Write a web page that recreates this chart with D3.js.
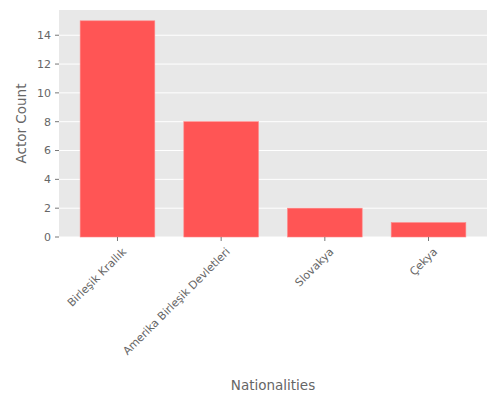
<!DOCTYPE html>
<html>
<head>
<meta charset="UTF-8">
<style>
  body { margin: 0; background: #fff; }
  text { font-family: "DejaVu Sans", sans-serif; }
</style>
</head>
<body>
<svg width="500" height="400"></svg>
<script src="https://d3js.org/d3.v7.min.js"></script>
<script>
let nationalities = ["Birleşik Krallık", "Amerika Birleşik Devletleri", "Slovakya", "Çekya"]
let counts = [15, 8, 2, 1]
let yTicks = [0, 2, 4, 6, 8, 10, 12, 14]

let svg = d3.select("svg")
let mLeft = 59, mRight = 487, mTop = 10, mBottom = 237

let x = d3.scaleLinear().domain([-0.564, nationalities.length - 1 + 0.564]).range([mLeft, mRight])
let y = d3.scaleLinear().domain([0, 15.75]).range([mBottom, mTop])
let barW = x(0.36) - x(0)

svg.append("rect").attr("x", mLeft).attr("y", mTop)
    .attr("width", mRight - mLeft).attr("height", mBottom - mTop).attr("fill", "#e8e8e8")

svg.append("g").selectAll("line").data(yTicks).enter().append("line")
    .attr("x1", mLeft).attr("x2", mRight)
    .attr("y1", d => y(d)).attr("y2", d => y(d))
    .attr("stroke", "#fff").attr("stroke-width", 1)

svg.append("g").selectAll("rect").data(counts).enter().append("rect")
    .attr("x", (d, i) => x(i) - barW)
    .attr("width", barW * 2)
    .attr("y", d => y(d))
    .attr("height", d => mBottom - y(d))
    .attr("fill", "#ff5555")
    .attr("stroke", "#ff8888").attr("stroke-width", 0.6)

// y axis
let yg = svg.append("g")
yg.selectAll("line").data(yTicks).enter().append("line")
    .attr("x1", mLeft - 4).attr("x2", mLeft)
    .attr("y1", d => y(d)).attr("y2", d => y(d)).attr("stroke", "#777")
yg.selectAll("text").data(yTicks).enter().append("text")
    .attr("x", mLeft - 8).attr("y", d => y(d)).attr("dy", "0.35em")
    .attr("text-anchor", "end").attr("font-size", 11).attr("fill", "#666")
    .text(d => d)

// x axis
let xg = svg.append("g")
xg.selectAll("line").data(nationalities).enter().append("line")
    .attr("x1", (d, i) => x(i)).attr("x2", (d, i) => x(i))
    .attr("y1", mBottom).attr("y2", mBottom + 4).attr("stroke", "#777")
xg.selectAll("text").data(nationalities).enter().append("text")
    .attr("transform", (d, i) => "translate(" + (x(i) + 4) + "," + (mBottom + 10) + ") rotate(-45)")
    .attr("text-anchor", "end").attr("dy", "0.7em").attr("font-size", 11).attr("fill", "#666")
    .text(d => d)

svg.append("text").attr("x", (mLeft + mRight) / 2).attr("y", 390)
    .attr("text-anchor", "middle").attr("font-size", 13.5).attr("fill", "#666")
    .text("Nationalities")
svg.append("text").attr("transform", "translate(26," + ((mTop + mBottom) / 2) + ") rotate(-90)")
    .attr("text-anchor", "middle").attr("font-size", 13.5).attr("fill", "#666")
    .text("Actor Count")
</script>
</body>
</html>
